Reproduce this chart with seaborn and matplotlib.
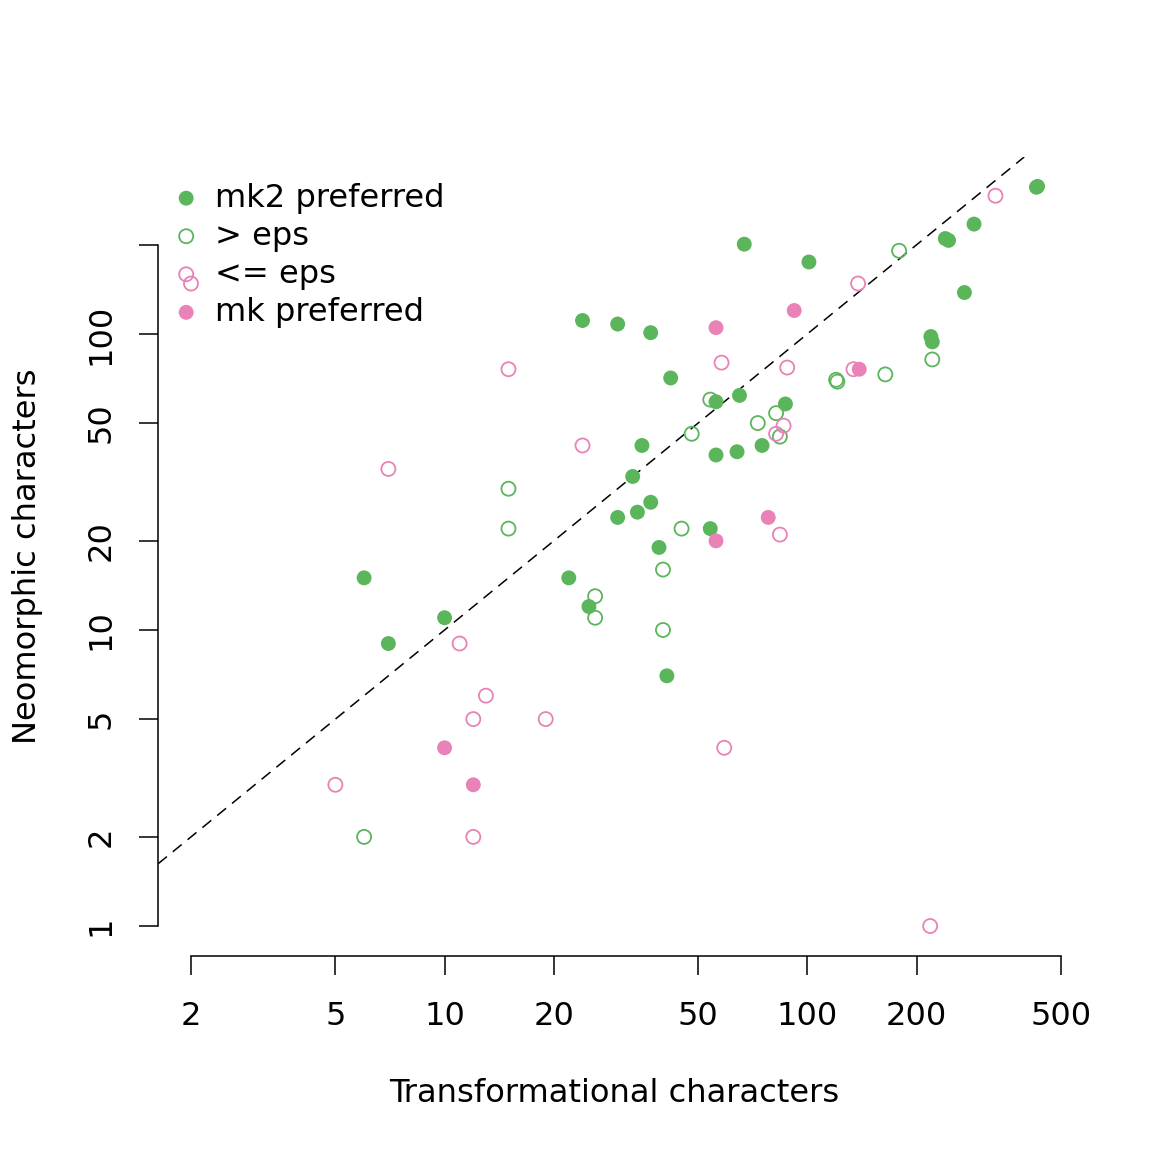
import numpy as np
import pandas as pd
import seaborn as sns
import matplotlib
matplotlib.use("Agg")
import matplotlib.pyplot as plt

# ----------------------------- data ------------------------------
# mk2 preferred (green, filled)
mk2_x = [428, 431, 67, 101, 240, 245, 288, 271, 219, 221, 87, 24, 30, 37, 42, 56, 65,
         35, 56, 64, 75, 33, 37, 34, 30, 54, 39, 22, 25, 41, 6, 10, 7]
mk2_y = [313, 315, 201, 175, 210, 207, 235, 138, 98, 94, 58, 111, 108, 101, 71, 59, 62,
         42, 39, 40, 42, 33, 27, 25, 24, 22, 19, 15, 12, 7, 15, 11, 9]
# > eps (green, open)
gt_x = [179, 221, 164, 120, 121, 54, 73, 82, 84, 48, 45, 40, 26, 26, 40, 15, 15, 6]
gt_y = [191, 82, 73, 70, 69, 60, 50, 54, 45, 46, 22, 16, 13, 11, 10, 30, 22, 2]
# <= eps (pink, open)
le_x = [330, 138, 88, 134, 58, 15, 24, 86, 82, 84, 7, 11, 13, 12, 19, 59, 5, 12, 218, 2]
le_y = [293, 148, 77, 76, 80, 76, 42, 49, 46, 21, 35, 9, 6, 5, 5, 4, 3, 2, 1, 148]
# mk preferred (pink, filled)
mk_x = [92, 56, 139, 78, 56, 10, 12]
mk_y = [120, 105, 76, 24, 20, 4, 3]

groups = ["mk2 preferred", "> eps", "<= eps", "mk preferred"]
x_ticks = [2, 5, 10, 20, 50, 100, 200, 500]
y_ticks = [1, 2, 5, 10, 20, 50, 100, 200]
y_ticklabels = ["1", "2", "5", "10", "20", "50", "100", ""]

green, pink = "#5BB55B", "#E882B7"

df = pd.concat([
    pd.DataFrame({"x": mk2_x, "y": mk2_y, "group": groups[0]}),
    pd.DataFrame({"x": gt_x, "y": gt_y, "group": groups[1]}),
    pd.DataFrame({"x": le_x, "y": le_y, "group": groups[2]}),
    pd.DataFrame({"x": mk_x, "y": mk_y, "group": groups[3]}),
])

style = {
    "mk2 preferred": dict(color=green, filled=True),
    "> eps": dict(color=green, filled=False),
    "<= eps": dict(color=pink, filled=False),
    "mk preferred": dict(color=pink, filled=True),
}

# ----------------------------- plot ------------------------------
sns.set_style("white")
plt.rcParams["font.family"] = ["DejaVu Sans"]
plt.rcParams.update({"text.color": "black", "axes.labelcolor": "black",
                     "xtick.color": "black", "ytick.color": "black"})
FS = 23.1

fig = plt.figure(figsize=(11.52, 11.52), dpi=100)
ax = fig.add_axes([158 / 1152, 1 - 956 / 1152, (1071 - 158) / 1152, (956 - 157) / 1152])
ax.set_xscale("log"); ax.set_yscale("log")

# 1:1 reference line
ax.axline((1, 1), (10, 10), color="black", lw=1.1, ls=(0, (7.5, 5)), zorder=1)

for g in groups:
    sub = df[df["group"] == g]
    st = style[g]
    if st["filled"]:
        sns.scatterplot(data=sub, x="x", y="y", color=st["color"], s=115,
                        edgecolor="none", linewidth=0, label=g, ax=ax, legend=False, zorder=3)
    else:
        sns.scatterplot(data=sub, x="x", y="y", color=st["color"], s=102,
                        facecolors="none", edgecolor=st["color"], linewidth=1.3,
                        label=g, ax=ax, legend=False, zorder=3)

ax.set_xlim(1.622, 533)
ax.set_ylim(0.792, 396)

for s in ["top", "right"]:
    ax.spines[s].set_visible(False)
for s in ["left", "bottom"]:
    ax.spines[s].set_linewidth(1.1)
    ax.spines[s].set_color("black")
ax.spines["left"].set_bounds(1, 200)
ax.spines["bottom"].set_bounds(2, 500)

ax.set_xticks(x_ticks)
ax.set_xticklabels([str(t) for t in x_ticks])
ax.set_yticks(y_ticks)
ax.set_yticklabels(y_ticklabels)
ax.minorticks_off()
ax.tick_params(axis="both", direction="out", length=13.7, width=1.1, color="black",
               labelcolor="black", labelsize=FS, left=True, bottom=True)
ax.tick_params(axis="x", pad=18.5)
ax.tick_params(axis="y", pad=16.2)
for lab in ax.get_yticklabels():
    lab.set_rotation(90)
    lab.set_va("center")

ax.set_xlabel("Transformational characters", fontsize=FS, labelpad=33.5, color="black")
ax.set_ylabel("Neomorphic characters", fontsize=FS, labelpad=30.5, color="black")

handles, labels = ax.get_legend_handles_labels()
leg = ax.legend(handles, labels, loc="upper left", bbox_to_anchor=(0.001, 0.976), frameon=False,
                fontsize=FS, borderaxespad=0, borderpad=0.2, handlelength=1.3,
                handletextpad=0.24, labelspacing=0.22, scatterpoints=1)
for t in leg.get_texts():
    t.set_color("black")

fig.savefig("out.png", dpi=100)
